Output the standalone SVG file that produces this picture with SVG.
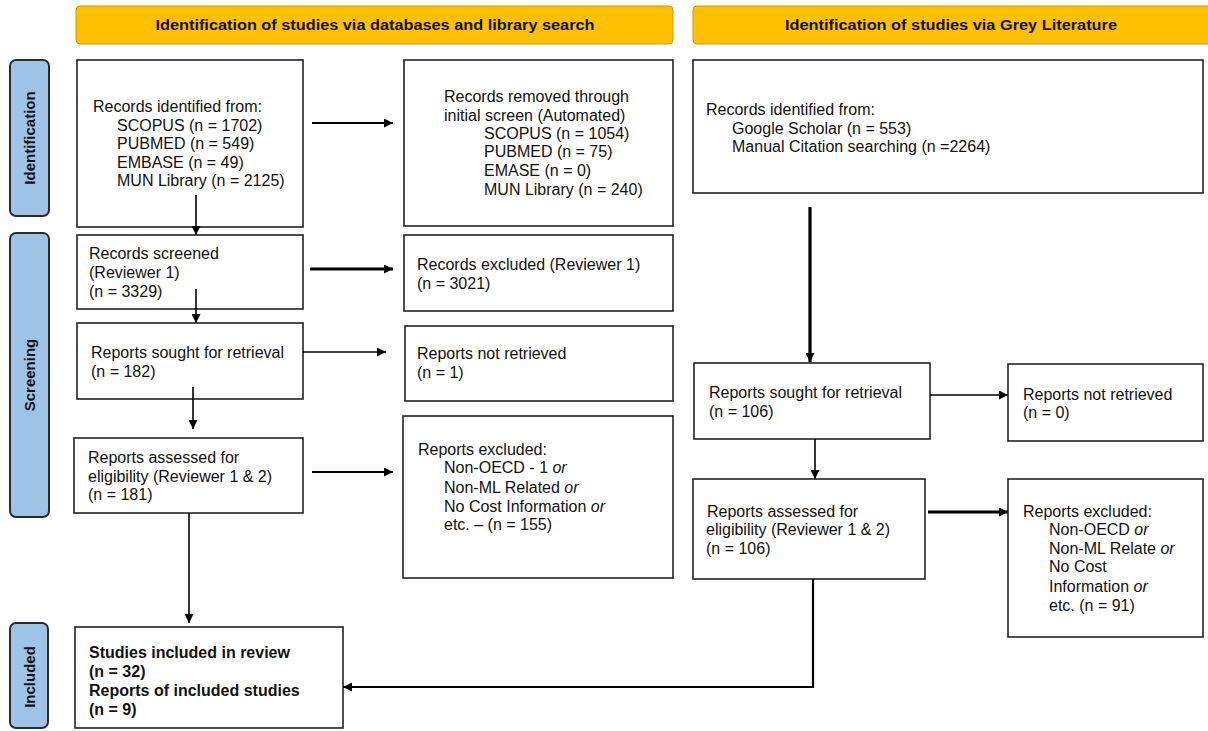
<svg xmlns="http://www.w3.org/2000/svg" width="1208" height="731" viewBox="0 0 1208 731">
<style>
text{font-family:"Liberation Sans",Arial,sans-serif;font-size:16px;fill:#111}
.hdr rect{fill:#FFC000;stroke:#C89B00;stroke-width:1}
.hdr text{font-weight:bold;font-size:14px;text-anchor:middle}
.side rect{fill:#9DC3E6;stroke:#2b2b2b;stroke-width:2}
.side text{font-weight:bold;font-size:15px;text-anchor:middle}
.box rect{fill:#fff;stroke:#222;stroke-width:1.6}
.b text{font-weight:bold}
.c path{fill:none;stroke:#000}
.t1{stroke-width:1.6}
.t2{stroke-width:2.2}
.t3{stroke-width:3.2}
</style>
<defs>
<marker id="ah" viewBox="0 0 10 10" refX="10" refY="5" markerWidth="9" markerHeight="9" markerUnits="userSpaceOnUse" orient="auto"><path d="M0,0 L10,5 L0,10 z" fill="#000"/></marker>
</defs>
<rect width="1208" height="731" fill="#fff"/>
<g id="header-left" class="hdr"><rect x="76" y="6" width="597" height="38" rx="4"/><text x="375" y="30" textLength="439" lengthAdjust="spacingAndGlyphs">Identification of studies via databases and library search</text></g>
<g id="header-right" class="hdr"><rect x="693" y="6" width="520" height="38" rx="4"/><text x="951" y="30" textLength="332" lengthAdjust="spacingAndGlyphs">Identification of studies via Grey Literature</text></g>
<g id="label-identification" class="side"><rect x="10" y="60" width="39" height="156" rx="6"/><text transform="translate(35,138) rotate(-90)">Identification</text></g>
<g id="label-screening" class="side"><rect x="10" y="233" width="39" height="284" rx="6"/><text transform="translate(35,375) rotate(-90)">Screening</text></g>
<g id="label-included" class="side"><rect x="10" y="623" width="38" height="105" rx="6"/><text transform="translate(35,677) rotate(-90)">Included</text></g>
<g id="records-identified" class="box"><rect x="77" y="60" width="226" height="167"/>
<text x="93" y="112">Records identified from:</text>
<text x="117" y="131">SCOPUS (n = 1702)</text>
<text x="117" y="149">PUBMED (n = 549)</text>
<text x="117" y="168">EMBASE (n = 49)</text>
<text x="117" y="186">MUN Library (n = 2125)</text></g>
<g id="records-removed" class="box"><rect x="404" y="60" width="269" height="166"/>
<text x="444" y="102">Records removed through</text>
<text x="444" y="121">initial screen (Automated)</text>
<text x="484" y="139">SCOPUS (n = 1054)</text>
<text x="484" y="157">PUBMED (n = 75)</text>
<text x="484" y="176">EMASE (n = 0)</text>
<text x="484" y="195">MUN Library (n = 240)</text></g>
<g id="records-screened" class="box"><rect x="77" y="235" width="226" height="74"/>
<text x="89" y="259">Records screened</text>
<text x="89" y="278">(Reviewer 1)</text>
<text x="89" y="297">(n = 3329)</text></g>
<g id="records-excluded" class="box"><rect x="404" y="235" width="269" height="76"/>
<text x="417" y="270">Records excluded (Reviewer 1)</text>
<text x="417" y="289">(n = 3021)</text></g>
<g id="reports-sought-1" class="box"><rect x="77" y="323" width="226" height="76"/>
<text x="91" y="358">Reports sought for retrieval</text>
<text x="91" y="377">(n = 182)</text></g>
<g id="reports-not-retrieved-1" class="box"><rect x="405" y="326" width="268" height="75"/>
<text x="417" y="359">Reports not retrieved</text>
<text x="417" y="378">(n = 1)</text></g>
<g id="reports-assessed-1" class="box"><rect x="74" y="438" width="229" height="75"/>
<text x="88" y="463">Reports assessed for</text>
<text x="88" y="482">eligibility (Reviewer 1 &amp; 2)</text>
<text x="88" y="500">(n = 181)</text></g>
<g id="reports-excluded-1" class="box"><rect x="403" y="416" width="270" height="162"/>
<text x="418" y="455">Reports excluded:</text>
<text x="444" y="473">Non-OECD - 1 <tspan font-style="italic">or</tspan></text>
<text x="444" y="493">Non-ML Related <tspan font-style="italic">or</tspan></text>
<text x="444" y="512">No Cost Information <tspan font-style="italic">or</tspan></text>
<text x="444" y="530">etc. – (n = 155)</text></g>
<g id="studies-included" class="box b"><rect x="75" y="627" width="268" height="101"/>
<text x="89" y="658">Studies included in review</text>
<text x="89" y="677">(n = 32)</text>
<text x="89" y="696">Reports of included studies</text>
<text x="89" y="715">(n = 9)</text></g>
<g id="grey-records-identified" class="box"><rect x="693" y="60" width="510" height="133"/>
<text x="706" y="115">Records identified from:</text>
<text x="732" y="134">Google Scholar (n = 553)</text>
<text x="732" y="152">Manual Citation searching (n =2264)</text></g>
<g id="reports-sought-2" class="box"><rect x="694" y="363" width="236" height="76"/>
<text x="709" y="398">Reports sought for retrieval</text>
<text x="709" y="417">(n = 106)</text></g>
<g id="reports-not-retrieved-2" class="box"><rect x="1008" y="364" width="195" height="77"/>
<text x="1023" y="400">Reports not retrieved</text>
<text x="1023" y="418">(n = 0)</text></g>
<g id="reports-assessed-2" class="box"><rect x="693" y="479" width="232" height="100"/>
<text x="707" y="517">Reports assessed for</text>
<text x="706" y="535">eligibility (Reviewer 1 &amp; 2)</text>
<text x="706" y="554">(n = 106)</text></g>
<g id="reports-excluded-2" class="box"><rect x="1008" y="479" width="195" height="158"/>
<text x="1023" y="517">Reports excluded:</text>
<text x="1049" y="535">Non-OECD <tspan font-style="italic">or</tspan></text>
<text x="1049" y="554">Non-ML Relate <tspan font-style="italic">or</tspan></text>
<text x="1049" y="572">No Cost</text>
<text x="1049" y="592">Information <tspan font-style="italic">or</tspan></text>
<text x="1049" y="611">etc. (n = 91)</text></g>
<g id="connectors" class="c">
<path class="t2" d="M312 123 H393" marker-end="url(#ah)"/>
<path class="t1" d="M196 195 V235" marker-end="url(#ah)"/>
<path class="t3" d="M310 269 H393" marker-end="url(#ah)"/>
<path class="t1" d="M196 289 V323" marker-end="url(#ah)"/>
<path class="t1" d="M303 352 H386" marker-end="url(#ah)"/>
<path class="t1" d="M193 387 V429" marker-end="url(#ah)"/>
<path class="t2" d="M312 472 H393" marker-end="url(#ah)"/>
<path class="t1" d="M189 513 V623" marker-end="url(#ah)"/>
<path class="t3" d="M810 207 V362" marker-end="url(#ah)"/>
<path class="t1" d="M930 395 H1008" marker-end="url(#ah)"/>
<path class="t1" d="M815 439 V479" marker-end="url(#ah)"/>
<path class="t3" d="M928 512 H1008" marker-end="url(#ah)"/>
<path class="t2" d="M813 579 V687 H343" marker-end="url(#ah)"/>
</g>
</svg>
